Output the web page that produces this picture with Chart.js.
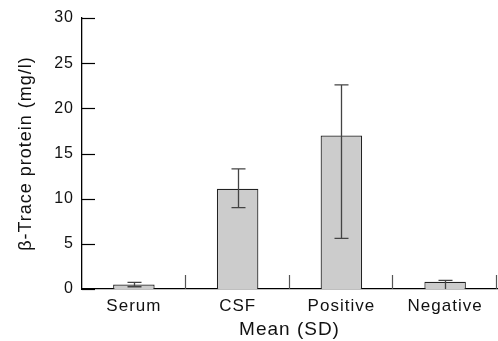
<!DOCTYPE html>
<html>
<head>
<meta charset="utf-8">
<script src="https://cdn.jsdelivr.net/npm/chart.js@4"></script>
<style>
  html, body { margin: 0; padding: 0; background: #fff; }
  #wrap { width: 498px; height: 341px; }
</style>
</head>
<body>
<div id="wrap"><canvas id="chart"></canvas></div>
<script>
const categories = ["Serum", "CSF", "Positive", "Negative"];
const means = [0.5, 11.1, 17.0, 0.8];
const errLow = [0.25, 9.0, 5.6, 0];
const errHigh = [0.74, 13.3, 22.6, 0.95];
const yTicks = [0, 5, 10, 15, 20, 25, 30];

const FONT = "'Liberation Sans', Arial, sans-serif";

// letter spacing to mimic the wider print font
const spacing = {
    id: 'spacing',
    beforeUpdate(chart) { chart.ctx.letterSpacing = '1px'; },
    beforeDraw(chart) { chart.ctx.letterSpacing = '1px'; }
};

// inward y ticks, category separators and error bars
const extras = {
    id: 'extras',
    afterDatasetsDraw(chart) {
        const ctx = chart.ctx;
        const x = chart.scales.x;
        const y = chart.scales.y;
        const area = chart.chartArea;
        ctx.save();
        ctx.strokeStyle = '#000';
        ctx.lineWidth = 1.2;
        yTicks.forEach(v => {
            const py = Math.round(y.getPixelForValue(v)) + 0.5;
            ctx.beginPath();
            ctx.moveTo(area.left, py);
            ctx.lineTo(area.left + 13, py);
            ctx.stroke();
        });
        ctx.strokeStyle = '#555';
        const half = (x.getPixelForValue(1) - x.getPixelForValue(0)) / 2;
        categories.forEach((c, i) => {
            const px = Math.round(x.getPixelForValue(i) + half) - 0.5;
            ctx.beginPath();
            ctx.moveTo(px, area.bottom);
            ctx.lineTo(px, area.bottom - 14);
            ctx.stroke();
        });
        const bars = chart.getDatasetMeta(0).data;
        ctx.strokeStyle = '#444';
        ctx.lineWidth = 1.3;
        bars.forEach((bar, i) => {
            const bx = Math.round(bar.x) + 0.5;
            const top = y.getPixelForValue(errHigh[i]);
            const bot = y.getPixelForValue(errLow[i]);
            ctx.beginPath();
            ctx.moveTo(bx, top);
            ctx.lineTo(bx, bot);
            ctx.moveTo(bx - 7, top);
            ctx.lineTo(bx + 7, top);
            if (errLow[i] > 0) {
                ctx.moveTo(bx - 7, bot);
                ctx.lineTo(bx + 7, bot);
            }
            ctx.stroke();
        });
        ctx.restore();
    }
};

new Chart(document.getElementById('chart'), {
    type: 'bar',
    data: {
        labels: categories,
        datasets: [{
            data: means,
            backgroundColor: '#cccccc',
            borderColor: '#222',
            borderWidth: 1.2,
            categoryPercentage: 1,
            barPercentage: 0.4
        }]
    },
    options: {
        responsive: true,
        maintainAspectRatio: false,
        animation: false,
        layout: { padding: { top: 18, right: 1, left: 0, bottom: 0 } },
        plugins: {
            legend: { display: false },
            tooltip: { enabled: false }
        },
        scales: {
            x: {
                afterFit(scale) { scale.height = 52; },
                grid: { display: false, drawTicks: false, tickLength: 0 },
                border: { display: true, color: '#000', width: 1.3 },
                ticks: { color: '#111', padding: 7, font: { family: FONT, size: 17 } },
                title: {
                    display: true,
                    text: 'Mean (SD)',
                    color: '#111',
                    padding: { top: 0, bottom: 0 },
                    font: { family: FONT, size: 19 }
                }
            },
            y: {
                min: 0,
                max: 30,
                afterFit(scale) { scale.width = 82; },
                grid: { display: false, drawTicks: false, tickLength: 0 },
                border: { display: true, color: '#000', width: 1.3 },
                ticks: {
                    stepSize: 5,
                    color: '#111',
                    padding: 8,
                    font: { family: FONT, size: 16 }
                },
                title: {
                    display: true,
                    text: 'β-Trace protein (mg/l)',
                    color: '#111',
                    padding: { top: 15, bottom: 0 },
                    font: { family: FONT, size: 18 }
                }
            }
        }
    },
    plugins: [spacing, extras]
});
</script>
</body>
</html>
